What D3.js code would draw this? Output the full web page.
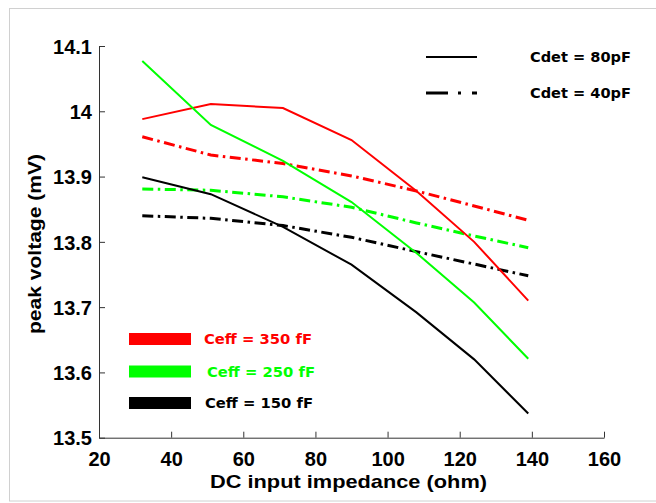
<!DOCTYPE html>
<html>
<head>
<meta charset="utf-8">
<script src="https://cdn.jsdelivr.net/npm/d3@7"></script>
<style>
  html, body { margin: 0; padding: 0; background: #fff; }
  svg { display: block; }
  .axis text { font-family: "Liberation Sans", Arial, sans-serif; font-weight: bold; font-size: 20px; fill: #000; }
  .axis path, .axis line { stroke: #333; }
  .title { font-family: "Liberation Sans", Arial, sans-serif; font-weight: bold; }
  .legend { font-family: "DejaVu Sans", sans-serif; font-weight: bold; font-size: 13.5px; }
</style>
</head>
<body>
<svg id="chart" width="656" height="503"></svg>
<script>
document.addEventListener('DOMContentLoaded', () => {
    'use strict';

    // DC input impedance (ohm)
    const impedance = [32, 51, 71, 90, 108, 124, 139];

    // peak voltage (mV), Cdet = 80pF (solid)
    const red80 = [13.988, 14.011, 14.005, 13.956, 13.878, 13.800, 13.710];
    const green80 = [14.077, 13.979, 13.924, 13.861, 13.783, 13.707, 13.621];
    const black80 = [13.899, 13.873, 13.823, 13.765, 13.692, 13.620, 13.537];

    // peak voltage (mV), Cdet = 40pF (dash-dot)
    const red40 = [13.961, 13.933, 13.920, 13.901, 13.878, 13.855, 13.833];
    const green40 = [13.881, 13.879, 13.869, 13.853, 13.829, 13.809, 13.791];
    const black40 = [13.840, 13.836, 13.825, 13.807, 13.785, 13.766, 13.748];

    const xTicks = [20, 40, 60, 80, 100, 120, 140, 160];
    const yTicks = [13.5, 13.6, 13.7, 13.8, 13.9, 14, 14.1];

    const ceffLabels = ['Ceff = 350 fF', 'Ceff = 250 fF', 'Ceff = 150 fF'];
    const ceffColors = ['#ff0000', '#00ff00', '#000000'];
    const cdetLabels = ['Cdet = 80pF', 'Cdet = 40pF'];

    const svg = d3.select('#chart');

    // light frame round the figure
    svg.append('rect')
        .attr('x', 9.5).attr('y', 8.5)
        .attr('width', 700).attr('height', 492.5)
        .attr('fill', '#fff')
        .attr('stroke', '#d0d0d0');

    const x = d3.scaleLinear().domain([20, 160]).range([99, 604]);
    const y = d3.scaleLinear().domain([13.5, 14.1]).range([437.7, 46]);

    let xAxis = svg.append('g')
        .attr('class', 'axis')
        .attr('transform', 'translate(0,' + y(13.5) + ')')
        .call(d3.axisBottom(x).tickValues(xTicks).tickSizeInner(-6).tickSizeOuter(0).tickPadding(14));

    let yAxis = svg.append('g')
        .attr('class', 'axis')
        .attr('transform', 'translate(' + x(20) + ',0)')
        .call(d3.axisLeft(y).tickValues(yTicks).tickSizeInner(-6).tickSizeOuter(0).tickPadding(7)
            .tickFormat(d => String(+d.toFixed(1))));

    yAxis.selectAll('text').attr('dy', '0.36em');

    svg.append('text')
        .attr('class', 'title')
        .attr('x', 348.5).attr('y', 488)
        .attr('text-anchor', 'middle')
        .attr('font-size', '19px')
        .attr('textLength', 277)
        .attr('lengthAdjust', 'spacingAndGlyphs')
        .text('DC input impedance (ohm)');

    svg.append('text')
        .attr('class', 'title')
        .attr('transform', 'translate(41,244) rotate(-90)')
        .attr('text-anchor', 'middle')
        .attr('font-size', '19px')
        .attr('textLength', 180)
        .attr('lengthAdjust', 'spacingAndGlyphs')
        .text('peak voltage (mV)');

    const line = d3.line()
        .x((d, i) => x(impedance[i]))
        .y(d => y(d));

    const solid = [red80, green80, black80];
    const dashed = [red40, green40, black40];

    dashed.forEach((series, i) => {
        svg.append('path')
            .attr('d', line(series))
            .attr('fill', 'none')
            .attr('stroke', ceffColors[i])
            .attr('stroke-width', 3)
            .attr('stroke-dasharray', '11,4.5,2.5,4.5');
    });

    solid.forEach((series, i) => {
        svg.append('path')
            .attr('d', line(series))
            .attr('fill', 'none')
            .attr('stroke', ceffColors[i])
            .attr('stroke-width', 2);
    });

    // Cdet legend, top right
    const cdet = svg.append('g');
    cdetLabels.forEach((label, i) => {
        let yy = 57 + i * 36;
        cdet.append('line')
            .attr('x1', 426).attr('x2', 477)
            .attr('y1', yy).attr('y2', yy)
            .attr('stroke', '#000')
            .attr('stroke-width', i === 0 ? 2 : 3)
            .attr('stroke-dasharray', i === 0 ? null : '22,10,3,11');
        cdet.append('text')
            .attr('class', 'legend')
            .attr('x', 530).attr('y', yy + 5)
            .attr('textLength', 101)
            .attr('lengthAdjust', 'spacingAndGlyphs')
            .text(label);
    });

    // Ceff legend, bottom left
    const ceff = svg.append('g');
    const ceffY = [339, 371.5, 403];
    const ceffTextX = [204, 207, 205];
    ceffLabels.forEach((label, i) => {
        ceff.append('rect')
            .attr('x', 129).attr('y', ceffY[i] - 6)
            .attr('width', 62).attr('height', 12)
            .attr('fill', ceffColors[i]);
        ceff.append('text')
            .attr('class', 'legend')
            .attr('x', ceffTextX[i]).attr('y', ceffY[i] + 5)
            .attr('fill', ceffColors[i])
            .attr('textLength', 108)
            .attr('lengthAdjust', 'spacingAndGlyphs')
            .text(label);
    });
});
</script>
</body>
</html>
